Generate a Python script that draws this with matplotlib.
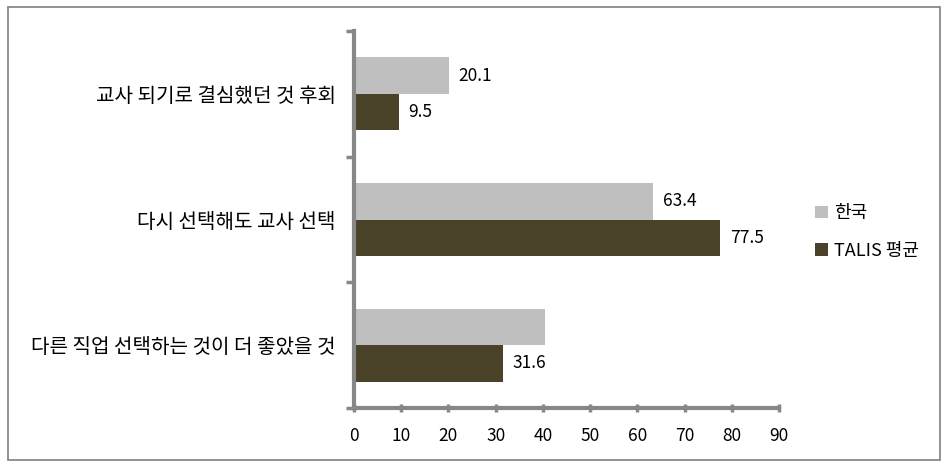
import matplotlib.pyplot as plt
from matplotlib.patches import Rectangle
import numpy as np

plt.rcParams['font.family'] = ['Noto Sans CJK KR', 'DejaVu Sans']

categories = ['교사 되기로 결심했던 것 후회', '다시 선택해도 교사 선택', '다른 직업 선택하는 것이 더 좋았을 것']
korea = [20.1, 63.4, 40.4]
talis = [9.5, 77.5, 31.6]
korea_labels = ['20.1', '63.4', '']
talis_labels = ['9.5', '77.5', '31.6']
series_names = ['한국', 'TALIS 평균']
xticks = [0, 10, 20, 30, 40, 50, 60, 70, 80, 90]

c_korea = '#bfbfbf'
c_talis = '#4a4329'
axis_gray = '#878787'

fig = plt.figure(figsize=(9.5, 4.67), dpi=100)
ax = fig.add_axes([0.3726, 0.1263, 0.4474, 0.8073])

# categories drawn top to bottom
pos = np.arange(len(categories))[::-1] + 0.5
h = 0.29
ax.barh(pos + h / 2, korea, height=h, color=c_korea, label=series_names[0])
ax.barh(pos - h / 2, talis, height=h, color=c_talis, label=series_names[1])

for p, v, t in zip(pos, korea, korea_labels):
    if t:
        ax.annotate(t, (v, p + h / 2), xytext=(7, 0), textcoords='offset points',
                    va='center', ha='left', fontsize=12.5)
for p, v, t in zip(pos, talis, talis_labels):
    ax.annotate(t, (v, p - h / 2), xytext=(7, 0), textcoords='offset points',
                va='center', ha='left', fontsize=12.5)

ax.set_xlim(0, 90)
ax.set_ylim(0, 3)
ax.set_xticks(xticks)
ax.set_xticklabels([str(x) for x in xticks], fontsize=12.5)
ax.set_yticks(pos)
ax.set_yticklabels(categories, fontsize=14.5)
ax.set_yticks([0, 1, 2, 3], minor=True)
ax.tick_params(axis='y', which='major', length=0, pad=13)
ax.tick_params(axis='y', which='minor', length=6, width=2.5, color=axis_gray, direction='out')
ax.tick_params(axis='x', length=6, width=2.5, color=axis_gray, direction='inout', pad=11)

for s in ['top', 'right']:
    ax.spines[s].set_visible(False)
for s in ['left', 'bottom']:
    ax.spines[s].set_color(axis_gray)
    ax.spines[s].set_linewidth(3)

ax.legend(loc='center left', bbox_to_anchor=(0.858, 0.503), bbox_transform=fig.transFigure,
          frameon=False, fontsize=13, handlelength=0.7, handleheight=0.7, handletextpad=0.35,
          labelspacing=1.1, borderaxespad=0, borderpad=0)

# outer chart frame
fig.patches.append(Rectangle((8 / 950, 7 / 467), 932 / 950, 453 / 467, transform=fig.transFigure,
                             fill=False, edgecolor='#7f7f7f', linewidth=1.2))

fig.savefig('out.png', dpi=100)
